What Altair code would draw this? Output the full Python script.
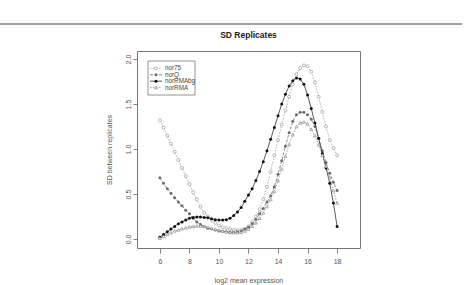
import altair as alt
import pandas as pd

# ---- data ----
x_vals = [6.0, 6.25, 6.5, 6.75, 7.0, 7.25, 7.5, 7.75, 8.0, 8.25, 8.5, 8.75,
          9.0, 9.25, 9.5, 9.75, 10.0, 10.25, 10.5, 10.75, 11.0, 11.25, 11.5, 11.75,
          12.0, 12.25, 12.5, 12.75, 13.0, 13.25, 13.5, 13.75, 14.0, 14.25, 14.5, 14.75,
          15.0, 15.25, 15.5, 15.75, 16.0, 16.25, 16.5, 16.75, 17.0, 17.25, 17.5, 17.75, 18.0]

nor75 = [1.32, 1.24, 1.15, 1.06, 0.97, 0.88, 0.79, 0.70, 0.61, 0.52, 0.44, 0.36,
         0.29, 0.25, 0.21, 0.18, 0.15, 0.13, 0.12, 0.11, 0.10, 0.10, 0.10, 0.11,
         0.14, 0.19, 0.25, 0.33, 0.44, 0.58, 0.75, 0.93, 1.10, 1.27, 1.43, 1.58,
         1.72, 1.83, 1.90, 1.93, 1.92, 1.86, 1.74, 1.58, 1.41, 1.25, 1.10, 1.01, 0.93]

norQ = [0.68, 0.62, 0.56, 0.51, 0.46, 0.41, 0.37, 0.32, 0.28, 0.23, 0.19, 0.16,
        0.14, 0.12, 0.11, 0.10, 0.09, 0.085, 0.08, 0.075, 0.075, 0.08, 0.09, 0.11,
        0.13, 0.17, 0.22, 0.28, 0.34, 0.41, 0.48, 0.58, 0.72, 0.87, 1.03, 1.18,
        1.31, 1.38, 1.41, 1.41, 1.38, 1.33, 1.25, 1.12, 0.98, 0.85, 0.73, 0.63, 0.54]

norRMAbg = [0.02, 0.05, 0.08, 0.11, 0.14, 0.17, 0.19, 0.21, 0.23, 0.24, 0.245, 0.245,
            0.24, 0.235, 0.225, 0.215, 0.21, 0.21, 0.215, 0.23, 0.26, 0.30, 0.35, 0.42,
            0.49, 0.56, 0.65, 0.75, 0.86, 0.98, 1.11, 1.24, 1.37, 1.50, 1.61, 1.70,
            1.76, 1.79, 1.78, 1.72, 1.60, 1.45, 1.29, 1.12, 0.95, 0.79, 0.62, 0.40, 0.14]

norRMA = [0.01, 0.03, 0.05, 0.07, 0.09, 0.10, 0.115, 0.125, 0.135, 0.14, 0.145, 0.145,
          0.14, 0.13, 0.12, 0.11, 0.10, 0.09, 0.08, 0.075, 0.07, 0.07, 0.075, 0.09,
          0.11, 0.14, 0.18, 0.23, 0.29, 0.36, 0.44, 0.53, 0.65, 0.78, 0.92, 1.05,
          1.16, 1.25, 1.29, 1.30, 1.28, 1.22, 1.15, 1.05, 0.93, 0.81, 0.68, 0.54, 0.40]

series_names = ["nor75", "norQ", "norRMAbg", "norRMA"]
series_values = [nor75, norQ, norRMAbg, norRMA]

x_ticks = [6, 8, 10, 12, 14, 16, 18]
y_ticks = [0.0, 0.5, 1.0, 1.5, 2.0]

rows = []
for name, ys in zip(series_names, series_values):
    for xv, yv in zip(x_vals, ys):
        rows.append({"x": xv, "y": yv, "series": name})
df = pd.DataFrame(rows)

FONT = "Liberation Sans"
TXT = "#555555"

styles = {
    "nor75":    dict(line="#8c8c8c", dash=[1.5, 1.5], shape="circle", filled=False, mark="#8c8c8c"),
    "norQ":     dict(line="#5a5a5a", dash=[3, 1.5], shape="circle", filled=True, mark="#6e6e6e"),
    "norRMAbg": dict(line="#111111", dash=None, shape="circle", filled=True, mark="#111111"),
    "norRMA":   dict(line="#7a7a7a", dash=[1.5, 1.5], shape="triangle-up", filled=False, mark="#7a7a7a"),
}

xscale = alt.Scale(domain=[4.45, 19.55], nice=False, zero=False)
yscale = alt.Scale(domain=[-0.1, 2.09], nice=False, zero=False)

xaxis = alt.Axis(values=x_ticks, format="d", title="log2 mean expression",
                 tickSize=5, labelPadding=4, titleY=32, titleBaseline="middle")
yaxis = alt.Axis(values=y_ticks, format=".1f", title="SD between replicates",
                 tickSize=4, labelPadding=2, labelAngle=270, labelAlign="center",
                 labelBaseline="bottom", titleX=-28, titleY=98.5, titleAngle=270,
                 titleAlign="center", titleBaseline="middle")

enc = dict(x=alt.X("x:Q", scale=xscale, axis=xaxis),
           y=alt.Y("y:Q", scale=yscale, axis=yaxis))

base = alt.Chart(df)
layers = []
for name in series_names:
    s = styles[name]
    sub = base.transform_filter(alt.datum.series == name)
    line_kwargs = dict(color=s["line"], strokeWidth=0.7)
    if s["dash"]:
        line_kwargs["strokeDash"] = s["dash"]
    layers.append(sub.mark_line(**line_kwargs).encode(**enc))
    pt_kwargs = dict(shape=s["shape"], size=9, strokeWidth=0.6)
    if s["filled"]:
        pt_kwargs.update(filled=True, color=s["mark"], opacity=1)
    else:
        pt_kwargs.update(filled=False, stroke=s["mark"], fill="white", fillOpacity=1)
    layers.append(sub.mark_point(**pt_kwargs).encode(**enc))

one = pd.DataFrame({"a": [0]})

# legend box
layers.append(alt.Chart(one).mark_rect(fill="white", stroke="#777777", strokeWidth=0.8).encode(
    x=alt.value(11), x2=alt.value(58), y=alt.value(10), y2=alt.value(44)))
for i, name in enumerate(series_names):
    s = styles[name]
    yy = 17.3 + i * 6.45
    rk = dict(color=s["line"], strokeWidth=0.7)
    if s["dash"]:
        rk["strokeDash"] = s["dash"]
    layers.append(alt.Chart(one).mark_rule(**rk).encode(
        x=alt.value(13), x2=alt.value(25), y=alt.value(yy)))
    pk = dict(shape=s["shape"], size=9, strokeWidth=0.6)
    if s["filled"]:
        pk.update(filled=True, color=s["mark"], opacity=1)
    else:
        pk.update(filled=False, stroke=s["mark"], fill="white", fillOpacity=1)
    layers.append(alt.Chart(one).mark_point(**pk).encode(x=alt.value(19), y=alt.value(yy)))
    layers.append(alt.Chart(one).mark_text(text=name, font=FONT, fontSize=6.3, color="#444444",
                                           align="left", baseline="middle").encode(
        x=alt.value(28), y=alt.value(yy)))

# chart title as text (centred over the plot box)
layers.append(alt.Chart(one).mark_text(text="SD Replicates", font=FONT, fontSize=8.5,
                                       fontWeight="bold", color="#222222",
                                       align="center", baseline="middle").encode(
    x=alt.value(111.5), y=alt.value(-16)))

# figure frame line at the top of the image
layers.append(alt.Chart(one).mark_rule(color="#444444", strokeWidth=1).encode(
    x=alt.value(-137), x2=alt.value(325), y=alt.value(-27)))

chart = alt.layer(*layers).properties(
    width=223, height=197,
    autosize="none",
    padding={"left": 137, "top": 51, "right": 113, "bottom": 37},
    background="white",
).configure_view(stroke="#777777", strokeWidth=1).configure_axis(
    grid=False, domain=False, tickColor="#666666", tickWidth=0.8,
    labelFont=FONT, labelFontSize=7, labelColor=TXT,
    titleFont=FONT, titleFontSize=7, titleFontWeight="normal", titleColor=TXT,
)

chart.save("out.html", embed_options={"renderer": "svg", "actions": False})
